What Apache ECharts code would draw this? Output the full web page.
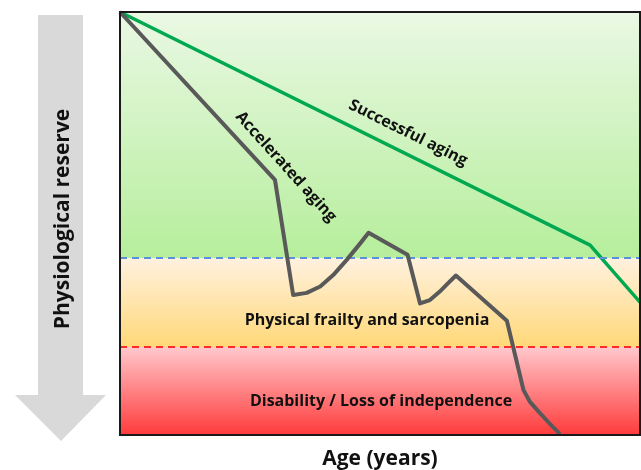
<!DOCTYPE html>
<html><head><meta charset="utf-8">
<script src="https://cdn.jsdelivr.net/npm/echarts@6/dist/echarts.min.js"></script>
<style>html,body{margin:0;padding:0;background:#fff}#c{width:641px;height:470px}</style>
</head><body><div id="c"></div>
<script>
// Data (x: relative age 0-100, y: physiological reserve 0-100)
const successfulAging = [[0,100],[90.4,44.9],[100,31.4]];
const acceleratedAging = [[0,100],[29.8,60.3],[33.3,33.1],[35.9,33.6],[38.5,35.1],[41.0,37.8],[43.6,41.4],[46.2,45.3],[47.8,47.8],[55.3,42.6],[57.7,31.1],[59.6,31.9],[61.5,33.9],[63.1,35.9],[64.6,37.7],[74.4,27.0],[77.6,10.6],[78.8,7.9],[80.8,5.1],[82.7,2.6],[84.6,0.2]];
const frailtyThreshold = 41.8;
const disabilityThreshold = 20.8;
const zoneLabels = ['Physical frailty and sarcopenia','Disability / Loss of independence'];
const lineLabels = ['Successful aging','Accelerated aging'];

const FONT = '"Open Sans", Lato, sans-serif';
const chart = echarts.init(document.getElementById('c'));
function grad(top, bottom){return {type:'linear',x:0,y:0,x2:0,y2:1,colorStops:[{offset:0,color:top},{offset:1,color:bottom}]};}
chart.setOption({
  animation:false,
  grid:{left:120,top:12,right:1,bottom:35,outerBoundsMode:'none',containLabel:false,show:true,borderColor:'#1a1a1a',borderWidth:2,z:10},
  xAxis:{type:'value',min:0,max:100,axisLine:{show:false},axisTick:{show:false},axisLabel:{show:false},splitLine:{show:false},
    name:'Age (years)',nameLocation:'middle',nameGap:14,nameTextStyle:{fontFamily:FONT,fontWeight:'bold',fontSize:21,color:'#111'}},
  yAxis:{type:'value',min:0,max:100,axisLine:{show:false},axisTick:{show:false},axisLabel:{show:false},splitLine:{show:false}},
  graphic:[
    {type:'polygon',z:-1,shape:{points:[[38,15],[83,15],[83,395],[106,395],[61,441],[15,395],[38,395]]},style:{fill:'#d9d9d9'}},
    {type:'text',z:5,x:63,y:219,rotation:Math.PI/2,style:{text:'Physiological reserve',fontFamily:FONT,fontWeight:'bold',fontSize:21,fill:'#111',align:'center',verticalAlign:'middle'}}
  ],
  series:[
    {type:'line',data:[],silent:true,
     markArea:{silent:true,data:[
       [{yAxis:frailtyThreshold,itemStyle:{color:grad('#eaf8e4','#b6ee9c')}},{yAxis:100}],
       [{yAxis:disabilityThreshold,itemStyle:{color:grad('#fff1df','#ffd878')},label:{show:true,formatter:zoneLabels[0],position:'inside',offset:[-13,18],fontFamily:FONT,fontWeight:'bold',fontSize:16,color:'#111'}},{yAxis:frailtyThreshold}],
       [{yAxis:0,itemStyle:{color:grad('#ffc8cc','#ff3b3b')},label:{show:true,formatter:zoneLabels[1],position:'inside',offset:[1,10],fontFamily:FONT,fontWeight:'bold',fontSize:16,color:'#111'}},{yAxis:disabilityThreshold}]
     ]},
     markLine:{silent:true,symbol:'none',label:{show:false},data:[
       {yAxis:frailtyThreshold,lineStyle:{color:'#5b8fdc',type:[7,5],width:2}},
       {yAxis:disabilityThreshold,lineStyle:{color:'#ff2a2a',type:[7,5],width:2}}
     ]}
    },
    {type:'line',data:successfulAging,symbol:'none',lineStyle:{color:'#00a94f',width:3.5},z:4,
     markPoint:{symbol:'circle',symbolSize:0,data:[{coord:[55.4,71.4],label:{show:true,formatter:lineLabels[0],rotate:-26.4,fontFamily:FONT,fontWeight:'bold',fontSize:16,color:'#111'}}]}},
    {type:'line',data:acceleratedAging,symbol:'none',lineStyle:{color:'#595959',width:4,join:'round'},z:5,
     markPoint:{symbol:'circle',symbolSize:0,data:[{coord:[31.9,63.4],label:{show:true,formatter:lineLabels[1],rotate:-48,fontFamily:FONT,fontWeight:'bold',fontSize:16,color:'#111'}}]}}
  ]
});
</script></body></html>
